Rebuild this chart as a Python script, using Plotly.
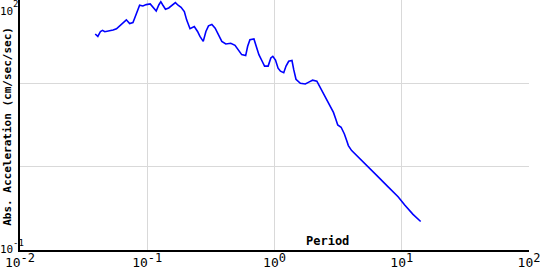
import plotly.graph_objects as go

period = [0.0390, 0.0409, 0.0429, 0.0445, 0.0464, 0.0508, 0.0539, 0.0573, 0.0608, 0.0645,
          0.0685, 0.0727, 0.0772, 0.0796, 0.0830, 0.0871, 0.0924, 0.0982, 0.1055, 0.1106,
          0.1176, 0.1232, 0.1278, 0.1324, 0.1390, 0.1475, 0.1585, 0.1664, 0.1747, 0.1844,
          0.1956, 0.2039, 0.2168, 0.2342, 0.2485, 0.2595, 0.2754, 0.2890, 0.3029, 0.3219,
          0.3417, 0.3626, 0.3854, 0.4142, 0.4532, 0.4895, 0.5194, 0.5524, 0.5935, 0.6153,
          0.6412, 0.6893, 0.7184, 0.7540, 0.8000, 0.8354, 0.8913, 0.9357, 0.9698, 1.018,
          1.067, 1.114, 1.182, 1.232, 1.293, 1.372, 1.415, 1.475, 1.596, 1.747,
          1.877, 1.991, 2.152, 2.288, 2.503, 2.738, 2.906, 3.029, 3.140, 3.338,
          3.541, 3.691, 3.806, 4.040, 4.419, 4.836, 5.454, 6.528, 7.816, 9.357,
          10.55, 12.26, 14.08]
accel = [39.1, 36.6, 41.9, 43.2, 41.6, 42.4, 43.6, 45.2, 49.0, 53.7,
         57.8, 52.2, 53.7, 60.5, 72.6, 86.5, 84.8, 88.0, 89.6, 83.2,
         73.9, 87.2, 95.4, 87.2, 77.5, 80.3, 88.0, 92.9, 86.5, 81.8,
         72.6, 57.8, 45.2, 48.1, 41.9, 36.6, 31.9, 41.9, 49.0, 50.8,
         46.0, 38.3, 31.9, 29.7, 30.2, 28.6, 25.4, 22.1, 21.5, 27.8,
         33.4, 34.1, 27.8, 22.1, 18.4, 16.1, 16.1, 20.2, 21.1, 19.0,
         15.2, 14.0, 13.4, 16.1, 18.4, 18.8, 14.7, 11.2, 10.0, 9.82,
         10.4, 10.9, 10.6, 8.89, 6.76, 5.37, 4.48, 3.73, 3.16, 2.97,
         2.47, 2.06, 1.79, 1.56, 1.36, 1.16, 0.99, 0.753, 0.573, 0.435,
         0.346, 0.268, 0.220]

x_ticks = [0.01, 0.1, 1, 10, 100]
x_exps = ["-2", "-1", "0", "1", "2"]
y_exps = ["2", "-1"]

x_title = "Period"
y_title = "Abs. Acceleration (cm/sec/sec)"

mono = "DejaVu Sans Mono"


def pow10(e):
    return "10<sup><span style='font-size:12px'>" + e + "</span></sup>"


fig = go.Figure()
fig.add_trace(go.Scatter(x=period, y=accel, mode="lines",
                         line=dict(color="#0000ff", width=1.6), hoverinfo="skip"))

fig.update_layout(
    width=540, height=270,
    margin=dict(l=20, r=8, t=0, b=18),
    paper_bgcolor="white", plot_bgcolor="white",
    showlegend=False,
    xaxis=dict(type="log", range=[-2, 2], tickvals=x_ticks,
               ticktext=[pow10(e) for e in x_exps], ticklabeloverflow="allow",
               showgrid=True, gridcolor="#d9d9d9", gridwidth=1,
               showline=True, linecolor="black", linewidth=1.5,
               ticks="", tickfont=dict(family=mono, size=13, color="black"),
               zeroline=False),
    yaxis=dict(type="log", range=[-1, 2], tickvals=[0.1, 1, 10, 100],
               showticklabels=False,
               showgrid=True, gridcolor="#d9d9d9", gridwidth=1,
               showline=True, linecolor="black", linewidth=1.5,
               ticks="", zeroline=False),
)

txt_font = dict(family=mono, size=11, color="black")
sup_font = dict(family=mono, size=9, color="black")
tight = dict(borderpad=0, borderwidth=0, showarrow=False, xref="paper", yref="paper")

# y-axis end labels: "10" base plus exponent, placed side by side
fig.add_annotation(text="10", x=0, y=1, xanchor="left", yanchor="top",
                   xshift=-20, yshift=-5, font=txt_font, **tight)
fig.add_annotation(text=y_exps[0], x=0, y=1, xanchor="left", yanchor="top",
                   xshift=-6.6, yshift=1, font=sup_font, **tight)
fig.add_annotation(text="10", x=0, y=0, xanchor="left", yanchor="bottom",
                   xshift=-20, yshift=-6, font=txt_font, **tight)
fig.add_annotation(text=y_exps[1], x=0, y=0, xanchor="left", yanchor="bottom",
                   xshift=-6.6, yshift=2, font=sup_font, **tight)

fig.add_annotation(text="<b>" + y_title + "</b>", x=0, y=0.495,
                   xanchor="center", yanchor="middle", xshift=-12.5, textangle=-90,
                   font=dict(family=mono, size=11, color="black"), **tight)
fig.add_annotation(text="<b>" + x_title + "</b>", x=0.605, y=0,
                   xanchor="center", yanchor="bottom", yshift=2,
                   font=dict(family=mono, size=12, color="black"), **tight)

fig.write_html("out.html")
